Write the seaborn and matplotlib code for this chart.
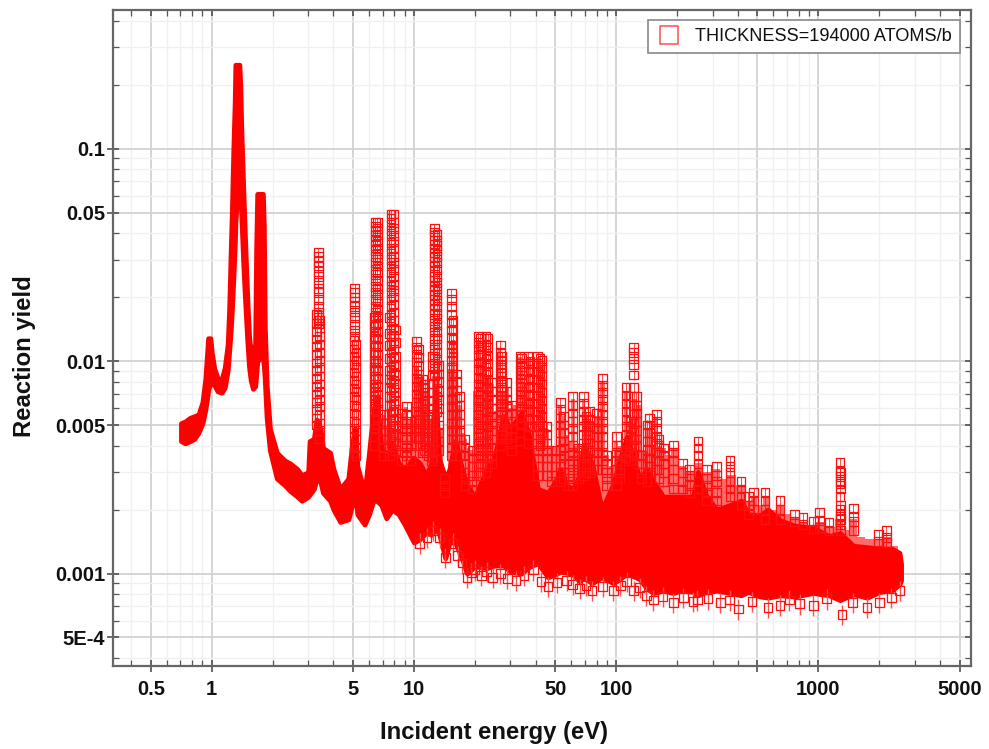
import matplotlib
matplotlib.use("Agg")
import matplotlib.pyplot as plt
import matplotlib.lines as mlines
from matplotlib.lines import Line2D
from matplotlib.ticker import FixedLocator, FixedFormatter, NullFormatter
import numpy as np
import pandas as pd
import seaborn as sns

# Solid core of the data cloud
band_energy = [.705,.74,.78,.82,.86,.90,.93,.95,.96,.985,1.0,1.03,1.07,1.12,1.16,1.20,1.22,1.24,1.26,1.28,1.30,1.31,1.37,1.385,1.40,1.43,1.46,1.50,1.53,1.56,1.60,1.64,1.66,1.68,1.79,1.81,1.83,1.87,1.94,2.1,2.3,2.44,2.65,2.79,3.0,3.05,3.2,3.3,3.45,3.55,3.85,4.0,4.32,4.74,4.95,5.12,5.25,5.7,6.0,6.3,6.55,6.9,7.3,7.8,8.4,9.0,10,10.7,11.5,12.2,12.8,13.3,14.3,15,16,17.3,18.3,20,22.9,25,27.8,30,34,37,41,46,50,53,57,61,66,69,76,85,97,104,113,125,131,142,153,171,192,207,240,254,280,315,366,415,450,515,564,647,765,944,1130,1280,1490,1740,2018,2300,2520,2565]
band_low = [.0042,.0041,.0042,.0043,.0046,.0051,.0059,.0067,.0073,.0079,.0081,.0077,.0072,.0071,.0075,.0091,.0112,.0137,.018,.025,.035,.045,.09,.07,.05,.03,.020,.0125,.0094,.0081,.0074,.0076,.0086,.0100,.0105,.0095,.0082,.0054,.0038,.0028,.0026,.00245,.0023,.0022,.0023,.00235,.0025,.0028,.0027,.0024,.0022,.0020,.00175,.0018,.0021,.0025,.0019,.0017,.0019,.0022,.0022,.0021,.00182,.002,.0019,.0017,.0014,.00145,.00156,.00152,.00166,.00155,.00118,.0014,.0014,.00117,.001,.00108,.00106,.00109,.00109,.00102,.001,.00107,.00112,.00096,.00099,.00102,.00101,.00099,.00092,.00096,.0009,.00096,.0009,.00094,.001,.00096,.00094,.00085,.00081,.00083,.00081,.00083,.00082,.00079,.00082,.00083,.00081,.00079,.00082,.00078,.00077,.00079,.00078,.00081,.00079,.00075,.0008,.00077,.00082,.00083,.00089,.00093]
band_high = [.0051,.0052,.0054,.0055,.0056,.0064,.0082,.0110,.0128,.0128,.0110,.0092,.0083,.0082,.0093,.0120,.0175,.031,.053,.10,.165,.248,.248,.195,.125,.067,.038,.0195,.013,.0111,.0109,.012,.034,.0612,.0612,.043,.0145,.0077,.0048,.0037,.0034,.0033,.0031,.0029,.003,.0042,.0043,.0053,.0048,.0039,.0037,.0031,.0025,.0028,.0041,.0048,.0032,.0024,.0037,.0058,.0068,.0039,.0034,.0041,.0033,.0031,.0035,.0033,.0029,.0033,.0072,.0035,.0028,.0031,.0042,.0031,.0026,.0023,.0031,.0035,.0055,.0048,.0057,.0045,.0025,.0024,.0027,.0031,.0026,.0025,.0029,.004,.0033,.002,.00265,.0034,.0044,.0032,.0028,.0031,.0027,.0023,.0023,.0023,.0023,.003,.0023,.002,.0021,.0022,.0019,.00188,.002,.00178,.00168,.00164,.0015,.00155,.00135,.00133,.00131,.00131,.00125,.00111]

# Upper skyline of the densely packed squares above the core
skyline_energy = [6.9,7.1,7.4,8.3,8.7,9.2,9.6,10.0,10.3,10.9,11.5,11.9,12.2,12.4,13.2,13.7,14.05,14.4,15.0,15.6,16.2,16.8,17.3,17.9,18.6,19.4,20,20.8,21.8,22.7,23.4,24.3,25.5,26.7,27.5,28.8,30,31.5,33.5,35,36.7,38,39.5,41,43,45.5,48,50,53,55,57,59,61,64,66,69,72,75,80,85.6,90,95,100,104,108,112,118,124,130,136,142,148,154,159,165,171,180,192,213,231,254,280,315,340,366,415,450,480,520,545,600,647,700,765,840,944,1010,1130,1280,1380,1490,1600,1800,1990,2170,2400,2565]
skyline_yield = [.0045,.0056,.0048,.0048,.0057,.0061,.0053,.0053,.0095,.0082,.0072,.0056,.0053,.0085,.0085,.0048,.0023,.0030,.0092,.0125,.0087,.0062,.0046,.0043,.0039,.0038,.0072,.0125,.0105,.0125,.0085,.0078,.0058,.0115,.0072,.0075,.0060,.0062,.0105,.0078,.0105,.0065,.0052,.0105,.0095,.0048,.0040,.0040,.0062,.0055,.0045,.0042,.0066,.0040,.0036,.0066,.0055,.0052,.0055,.0080,.0036,.0032,.0042,.0040,.0036,.0072,.0052,.0066,.0062,.0038,.0048,.0052,.0040,.0054,.0040,.0039,.0036,.0039,.0032,.0030,.0033,.0030,.0031,.0028,.0029,.0026,.0022,.0023,.0021,.0023,.0020,.0021,.0019,.00185,.00175,.0017,.00175,.00165,.0018,.0016,.0018,.00148,.00145,.00145,.00148,.00135,.00125]

# Tall stacks of open squares rising out of the core
stack_energy = [3.36,3.31,3.42,5.1,5.05,5.17,6.45,6.6,6.35,7.7,7.95,7.6,8.1,12.6,13.0,12.4,13.2]
stack_yields = [
    [.0326,.031,.0295,.028,.0265,.025,.0235,.022,.021,.0195,.018,.017,.016,.015],
    [.0165,.015,.0138,.0127,.0117,.0107,.0098,.009,.0083,.0076,.007,.0064,.0059,.0054,.005],
    [.0155,.0143,.0131,.012,.011,.0101,.0093,.0085,.0078,.0072,.0066,.0061,.0056,.0051,.0047,.0043],
    [.0219,.021,.02,.019,.018,.017,.016,.0148,.014,.013],
    [.0125,.0114,.0105,.0096,.0088,.0081,.0074,.0068,.0062,.0057,.0052,.0048,.0044,.004,.0037],
    [.012,.011,.0101,.0093,.0085,.0078,.0072,.0066,.0061,.0056,.0051,.0047,.0043,.0039,.0036],
    [.0447,.043,.041,.039,.037,.035,.033,.031,.029,.027,.0255,.024,.0225,.021,.0195,.018,.017,.016,.0148,.0138,.0128,.0118,.011,.0101,.0093,.0085,.0078,.0072,.0066,.0061],
    [.0447,.042,.0395,.0365,.034,.032,.030,.028,.026,.024,.022,.0205,.019,.0175,.0162,.015,.0138,.0127,.0117,.0107,.0098,.009,.0083,.0076,.007,.0064,.0059,.0054,.005],
    [.016,.0145,.013,.0118,.0107,.0098,.009,.0082,.0075,.0069,.0063,.0058,.0053,.0048,.0044,.004],
    [.0492,.047,.044,.041,.039,.036,.034,.032,.030,.028,.026,.024,.0225,.021,.0195,.018,.0165,.0153,.0141,.013,.012,.011,.0101,.0093,.0086,.0079,.0073,.0067,.0062,.0057,.0052,.0048,.0044,.0041],
    [.0492,.045,.042,.039,.0365,.034,.031,.029,.027,.025,.023,.0215,.02,.0185,.017,.0155,.0143,.0132,.0122,.0113,.0104,.0096,.0088,.0081,.0075,.0069,.0063,.0058,.0053,.0049,.0045,.0042],
    [.016,.0135,.0118,.0103,.009,.0082,.0075,.0068,.0062,.0056,.0051,.0047,.0043,.004,.0036],
    [.014,.0122,.0105,.0095,.0086,.0078,.0071,.0065,.0059,.0054,.005,.0045,.0041,.0038],
    [.042,.0405,.039,.037,.0355,.034,.0325,.031,.0295,.028,.0265,.025,.024,.0225,.0215,.0205,.0195,.0185,.0175,.0165,.0155,.0145,.0137,.0128,.012,.0113,.0105,.0098,.0092,.0085],
    [.0395,.037,.035,.033,.031,.029,.027,.025,.0235,.022,.0205,.0192,.018,.0168,.0158,.0148,.0138,.0128,.012,.011,.0102,.0094,.0087,.008,.0074,.0068,.0063,.0058],
    [.0105,.0095,.0086,.0078,.0071,.0065,.006,.0055,.005,.0046,.0042,.0038,.0035],
    [.0095,.0087,.008,.0072,.0066,.006,.0055,.005,.0046,.0042,.0038],
]

# Shorter stacks above the core, 7 eV to 2.2 keV
column_energy = [7.1,8.7,9.2,9.6,10.3,10.5,11,11.3,11.8,12.2,14.2,15.3,15.6,16.2,16.8,17.9,19.4,20.8,21.3,22.7,23.2,24.3,26.7,27.2,28.8,30.5,33.5,34.2,36.7,37.5,41,42,43,45.5,48,53,55,58,61,65,69,71,74,80,85.6,90,100,104,112,118,122,126,133,142,146,159,163,171,192,213,231,254,280,315,366,415,450,480,545,647,765,840,944,1010,1130,1280,1285,1490,1990,2170]
column_yields = [
    [.0056,.0051,.0047,.0043,.0039,.0036],
    [.0057,.0052,.0048,.0044,.004,.0037,.0034],
    [.0061,.0056,.0051,.0047,.0043,.0039,.0036],
    [.0052,.0048,.0044,.004,.0037,.0034],
    [.0124,.0116,.0108,.0099,.009,.0083,.0076,.007,.0064,.0058,.0053,.0048,.0044,.004],
    [.0113,.0104,.0095,.0087,.008,.0073,.0067,.0061,.0056,.0051,.0047,.0043],
    [.0082,.0075,.0069,.0063,.0058,.0053,.0048,.0044,.004,.0037],
    [.0078,.0071,.0065,.006,.0055,.005,.0046,.0042,.0038],
    [.0056,.0051,.0047,.0043,.0039,.0036],
    [.0053,.0048,.0044,.004,.0037,.0034],
    [.0028,.0026,.0024],
    [.0209,.0195,.018,.0165,.0152,.014,.0129,.0119,.011,.0101,.0093,.0085,.0078,.0072,.0066,.0061,.0056,.0051,.0047,.0043,.0039,.0036],
    [.0155,.014,.0127,.0115,.0105,.0095,.0087,.008,.0073,.0067,.0061,.0056,.0051,.0047,.0043],
    [.0087,.008,.0073,.0067,.0061,.0056,.0052,.0047,.0043,.004,.0036],
    [.0068,.0062,.0056,.0051,.0047,.0043,.004,.0036],
    [.0043,.0039,.0036,.0033,.003,.0028,.0026],
    [.0038,.0035,.0032,.0029,.0027,.0025],
    [.013,.0122,.0114,.0106,.0098,.0091,.0084,.0078,.0072,.0066,.0061,.0056,.0052,.0048,.0044,.0041,.0038,.0035,.0032,.0029],
    [.0128,.0118,.0108,.0099,.009,.0083,.0076,.007,.0064,.0059,.0054,.005,.0046,.0042,.0039,.0036,.0033,.003],
    [.013,.012,.0112,.0103,.0095,.0087,.0081,.0074,.0068,.0063,.0058,.0053,.0049,.0045,.0042,.0038,.0035,.0032,.003],
    [.0128,.0116,.0106,.0097,.0089,.0082,.0075,.0069,.0063,.0058,.0053,.0049,.0045,.0041,.0038,.0035,.0032],
    [.0079,.0072,.0066,.006,.0055,.0051,.0047,.0043,.0039,.0036,.0033],
    [.0119,.011,.0101,.0093,.0085,.0079,.0072,.0066,.0061,.0056,.0052,.0047,.0043,.004],
    [.0105,.0096,.0088,.0081,.0075,.0069,.0063,.0058,.0053,.0049,.0045],
    [.0079,.0072,.0066,.0061,.0056,.0051,.0047,.0043],
    [.0062,.0057,.0052,.0048,.0044,.0041,.0038],
    [.0105,.0097,.009,.0083,.0076,.007,.0064,.0059,.0054,.005,.0046,.0042],
    [.0103,.0094,.0086,.0079,.0072,.0066,.0061,.0056,.0051],
    [.0105,.0097,.0089,.0082,.0075,.0069,.0063,.0058,.0053,.0049,.0045,.0041],
    [.01,.0091,.0083,.0076,.007,.0064,.0059,.0054,.0049],
    [.0105,.0097,.0089,.0082,.0075,.0069,.0063,.0058,.0053,.0049,.0045,.0041,.0038,.0035,.0032,.0029],
    [.0103,.0095,.0087,.008,.0073,.0067,.0061,.0056,.0052,.0047,.0043,.004],
    [.0101,.0093,.0085,.0078,.0071,.0065,.006,.0055,.005,.0046],
    [.0049,.0045,.0041,.0038,.0035,.0032,.0029],
    [.0038,.0035,.0032,.0029,.0027],
    [.0064,.0059,.0054,.005,.0046,.0042,.0038,.0035,.0032,.003,.0027],
    [.0055,.005,.0046,.0042,.0039,.0036,.0033,.003,.0028],
    [.0036,.0033,.003,.0028,.0026],
    [.0068,.0062,.0057,.0052,.0048,.0044,.004,.0037,.0034,.0031,.0029,.0026],
    [.0039,.0036,.0033,.003,.0028],
    [.0068,.0063,.0058,.0053,.0049,.0045,.0041,.0038,.0035,.0032,.0029],
    [.0055,.0051,.0047,.0043,.0039,.0036,.0033,.003],
    [.0058,.0053,.0049,.0045,.0041,.0038,.0035,.0032,.003],
    [.0057,.0052,.0048,.0044,.004,.0037,.0034,.0031],
    [.0083,.0077,.0071,.0066,.0061,.0056,.0052,.0048,.0044,.004,.0037,.0034,.0031],
    [.0036,.0033,.003,.0028,.0026],
    [.0044,.004,.0037,.0034,.0031,.0028,.0026],
    [.0036,.0033,.003,.0028],
    [.0075,.0069,.0063,.0058,.0053,.0049,.0045,.0041,.0038,.0035],
    [.0052,.0048,.0044,.004,.0037,.0034],
    [.0116,.011,.0103,.0096,.0086,.0075,.0068,.0062,.0056,.0051,.0047,.0043,.0039,.0036],
    [.0068,.0062,.0057,.0052,.0047,.0043,.004,.0036,.0033],
    [.0036,.0033,.003,.0028],
    [.005,.0046,.0042,.0038,.0035,.0032,.003,.0027],
    [.0054,.005,.0046,.0042,.0038,.0035,.0032,.003],
    [.0056,.0052,.0048,.0044,.0041,.0037,.0034,.0031],
    [.0043,.004,.0037,.0034,.0031,.0028],
    [.0039,.0036,.0033,.003,.0027],
    [.004,.0037,.0034,.0031,.0028,.0025],
    [.0033,.003,.0027,.0025],
    [.0031,.0029,.0026,.0024],
    [.0042,.0039,.0036,.0033,.003,.0027,.0025],
    [.0031,.0028,.0026,.0024,.0022],
    [.0032,.0029,.0027,.0024,.0022],
    [.0034,.0032,.003,.0027,.0025,.0023],
    [.0027,.0025,.0023,.0021],
    [.0023,.0021,.0019],
    [.0024,.0022,.002],
    [.0024,.0022,.002,.0018],
    [.0022,.002,.0018],
    [.0019,.00175],
    [.00183,.0017],
    [.00176,.00162],
    [.00193,.00178,.00165],
    [.00174,.0016],
    [.00332,.00305,.00285,.00265,.0023,.002,.00185,.0017],
    [.003,.0027,.0025,.0021,.0019,.0018,.0016],
    [.00203,.00185,.00175,.0016],
    [.00152,.00142],
    [.0016,.00148,.0014],
]

# Lowest squares with long whiskers under the cloud
low_energy = [10.7,11.6,12.4,13.4,14.3,15.6,16.5,17.3,18.3,19.2,20,21.5,22.9,24.5,26.7,29,32,35,39,42.5,46,51,57,61,66,71,76,86,97,105,113,122,131,141,153,170,192,215,240,252,285,327,365,402,470,564,647,720,810,944,1100,1310,1480,1740,2000,2300,2530]
low_yield = [.00139,.00148,.0016,.00148,.00119,.00139,.00122,.00112,.00096,.00101,.00104,.00098,.00102,.00096,.001,.00095,.00093,.00098,.00104,.00092,.00087,.00091,.00093,.00089,.00085,.00088,.00083,.00087,.00083,.00088,.00092,.00083,.00086,.00079,.00075,.00078,.00073,.00077,.00074,.00075,.00076,.00073,.00075,.00068,.00074,.00069,.00071,.00075,.00072,.00071,.00076,.00064,.00073,.00069,.00073,.00077,.00083]

x_ticks = [0.5, 1, 5, 10, 50, 100, 500, 1000, 5000]
x_labels = ["0.5", "1", "5", "10", "50", "100", "", "1000", "5000"]
x_minor = [.4,.6,.7,.8,.9,2,3,4,6,7,8,9,20,30,40,60,70,80,90,200,300,400,600,700,800,900,2000,3000,4000]
y_ticks = [0.1, 0.05, 0.01, 0.005, 0.001, 5e-4]
y_labels = ["0.1", "0.05", "0.01", "0.005", "0.001", "5E-4"]
y_minor = [4e-4,6e-4,7e-4,8e-4,9e-4,.002,.003,.004,.006,.007,.008,.009,.02,.03,.04,.06,.07,.08,.09,.2,.3,.4]

stack_frame = pd.DataFrame(
    [(e, y) for e, ys in zip(stack_energy + column_energy, stack_yields + column_yields) for y in ys],
    columns=["energy", "yield"],
)
low_frame = pd.DataFrame({"energy": low_energy, "yield": low_yield})

sns.set_theme(style="white")
plt.rcParams["font.family"] = ["Liberation Sans", "DejaVu Sans"]

W, H = 989, 749
RED = "#ff0000"
fig = plt.figure(figsize=(W / 100, H / 100), dpi=100, facecolor="white")
ax = fig.add_axes([113 / W, 1 - 666 / H, (971 - 113) / W, (666 - 10) / H])
ax.set_xscale("log")
ax.set_yscale("log")
ax.set_xlim(0.325, 5690)
ax.set_ylim(3.67e-4, 0.449)

skyline_base = np.interp(skyline_energy, band_energy, band_low)
skyline_base = np.maximum(skyline_base, np.interp(skyline_energy, band_energy, band_high) * 0.8)
ax.fill_between(skyline_energy, skyline_base, skyline_yield, step="mid", color="#ff6a6a",
                lw=0, zorder=2.1)
ax.fill_between(band_energy, band_low, band_high, color=RED, lw=3.5, zorder=2.2)
ax.errorbar(stack_frame["energy"], stack_frame["yield"], yerr=stack_frame["yield"] * 0.05,
            fmt="none", ecolor=RED, elinewidth=0.7, alpha=0.7, zorder=2.3)
ax.errorbar(low_frame["energy"], low_frame["yield"], yerr=low_frame["yield"] * 0.11,
            fmt="none", ecolor="#ff5050", elinewidth=1.0, zorder=2.3)
sns.scatterplot(data=stack_frame, x="energy", y="yield", marker="s", s=40,
                facecolor="none", edgecolor="#ff1010", linewidth=0.9, ax=ax, zorder=2.4)
sns.scatterplot(data=low_frame, x="energy", y="yield", marker="s", s=40,
                facecolor="none", edgecolor="#ff1010", linewidth=0.9, ax=ax, zorder=2.4)

ax.xaxis.set_major_locator(FixedLocator(x_ticks))
ax.xaxis.set_major_formatter(FixedFormatter(x_labels))
ax.xaxis.set_minor_locator(FixedLocator(x_minor))
ax.xaxis.set_minor_formatter(NullFormatter())
ax.yaxis.set_major_locator(FixedLocator(y_ticks))
ax.yaxis.set_major_formatter(FixedFormatter(y_labels))
ax.yaxis.set_minor_locator(FixedLocator(y_minor))
ax.yaxis.set_minor_formatter(NullFormatter())

ax.set_axisbelow(True)
ax.grid(True, which="major", color="#d2d2d2", lw=1.3)
ax.grid(True, which="minor", color="#f0f0f0", lw=1.0)
for s in ax.spines.values():
    s.set_color("#666666")
    s.set_linewidth(1.6)
ax.tick_params(axis="both", which="major", direction="inout", length=8, width=1.1,
               color="#444444", top=True, right=True, left=True, bottom=True,
               labelsize=14.5, labelcolor="#111111")
ax.tick_params(axis="x", which="major", pad=6)
ax.tick_params(axis="y", which="major", pad=1.5)
ax.tick_params(axis="both", which="minor", direction="in", length=4, width=0.9,
               color="#555555", top=True, right=True, left=True, bottom=True)
fig.canvas.draw()
for t in ax.xaxis.get_major_ticks():
    t.tick2line.set_marker(mlines.TICKDOWN)
    t.tick2line.set_markersize(4)
for t in ax.yaxis.get_major_ticks():
    t.tick2line.set_marker(mlines.TICKLEFT)
    t.tick2line.set_markersize(4)
for lab in ax.get_xticklabels() + ax.get_yticklabels():
    lab.set_fontweight("bold")

ax.set_xlabel("")
ax.set_ylabel("")
fig.text(494 / W, 1 - 732 / H, "Incident energy (eV)", ha="center", va="center",
         fontsize=17.2, fontweight="bold", color="#111111")
fig.text(25 / W, 1 - 356 / H, "Reaction yield", ha="center", va="center", rotation=90,
         fontsize=17.2, fontweight="bold", color="#111111")

handle = Line2D([], [], linestyle="none", marker="s", markersize=12.5,
                markerfacecolor="none", markeredgecolor="#ff5050", markeredgewidth=1.1)
leg = ax.legend(handles=[handle], labels=["THICKNESS=194000 ATOMS/b"], loc="upper right",
                bbox_to_anchor=((960 - 113) / 858, (666 - 20) / 656), borderaxespad=0,
                frameon=True, fancybox=False, framealpha=1, edgecolor="#888888",
                fontsize=13.1, handletextpad=0.7, borderpad=0.45, handlelength=1.45)
leg.get_frame().set_linewidth(1.2)
for t in leg.get_texts():
    t.set_color("#111111")

fig.savefig("out.png", dpi=100, facecolor="white")
